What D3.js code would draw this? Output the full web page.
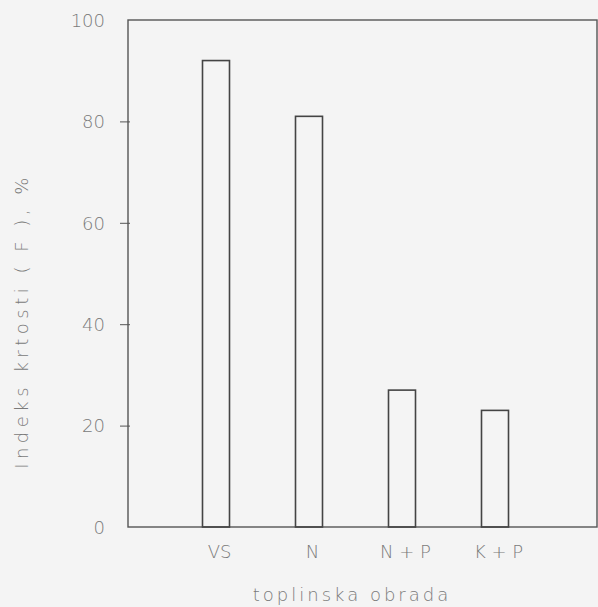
<!DOCTYPE html>
<html>
<head>
<meta charset="utf-8">
<script src="https://cdn.jsdelivr.net/npm/d3@7"></script>
<style>
  body { margin: 0; background: #f4f4f4; }
  svg { display: block; }
  text { font-family: "DejaVu Sans", sans-serif; font-weight: 200; fill: #7a7a7a; }
</style>
</head>
<body>
<div id="chart"></div>
<script>
const categories = ["VS", "N", "N + P", "K + P"];
const values = [92, 81, 27, 23];
const yTicks = [0, 20, 40, 60, 80, 100];
const yTitle = "Indeks krtosti ( F ), %";
const xTitle = "toplinska obrada";

const w = 598;
const h = 607;
const padLeft = 128, padRight = 597, padTop = 20, padBottom = 527;

const svg = d3.select("#chart")
              .append("svg")
              .attr("width", w)
              .attr("height", h);

const xScale = d3.scalePoint()
                 .domain(categories)
                 .range([216, 495]);

const yScale = d3.scaleLinear()
                 .domain([0, 100])
                 .range([padBottom, padTop]);

const barWidth = 27;

// frame
svg.append("rect")
   .attr("x", padLeft)
   .attr("y", padTop)
   .attr("width", padRight - padLeft)
   .attr("height", padBottom - padTop)
   .attr("fill", "none")
   .attr("stroke", "#555")
   .attr("stroke-width", 1.4);

// bars
svg.selectAll("rect.bar")
   .data(values)
   .enter()
   .append("rect")
   .attr("class", "bar")
   .attr("x", (d, i) => xScale(categories[i]) - barWidth / 2)
   .attr("y", d => yScale(d))
   .attr("width", barWidth)
   .attr("height", d => padBottom - yScale(d))
   .attr("fill", "none")
   .attr("stroke", "#444")
   .attr("stroke-width", 1.6);

// y axis
const yAxis = d3.axisLeft(yScale)
                .tickValues(yTicks)
                .tickSizeInner(8)
                .tickSizeOuter(0)
                .tickPadding(15);

const gy = svg.append("g")
              .attr("transform", "translate(" + padLeft + ",0)")
              .call(yAxis);
gy.select(".domain").remove();
gy.selectAll(".tick line").attr("stroke", "#555").attr("x2", -8).attr("x1", 2);
gy.selectAll(".tick")
  .filter(d => d === 0 || d === 100)
  .select("line").remove();
gy.selectAll(".tick text")
  .attr("font-size", 18)
  .attr("font-family", null)
  .attr("fill", null)
  .attr("dy", "0.35em");

// x labels
const xAxis = d3.axisBottom(xScale).tickSize(0).tickPadding(18);
const gx = svg.append("g")
              .attr("transform", "translate(3," + padBottom + ")")
              .call(xAxis);
gx.select(".domain").remove();
gx.selectAll(".tick text")
  .attr("font-size", 18)
  .attr("font-family", null)
  .attr("fill", null);

// titles
svg.append("text")
   .attr("x", 352)
   .attr("y", 601)
   .attr("text-anchor", "middle")
   .attr("font-size", 18)
   .style("letter-spacing", "3px")
   .text(xTitle);

svg.append("text")
   .attr("transform", "translate(28,321) rotate(-90)")
   .attr("text-anchor", "middle")
   .attr("font-size", 18)
   .style("letter-spacing", "4.5px")
   .text(yTitle);
</script>
</body>
</html>
